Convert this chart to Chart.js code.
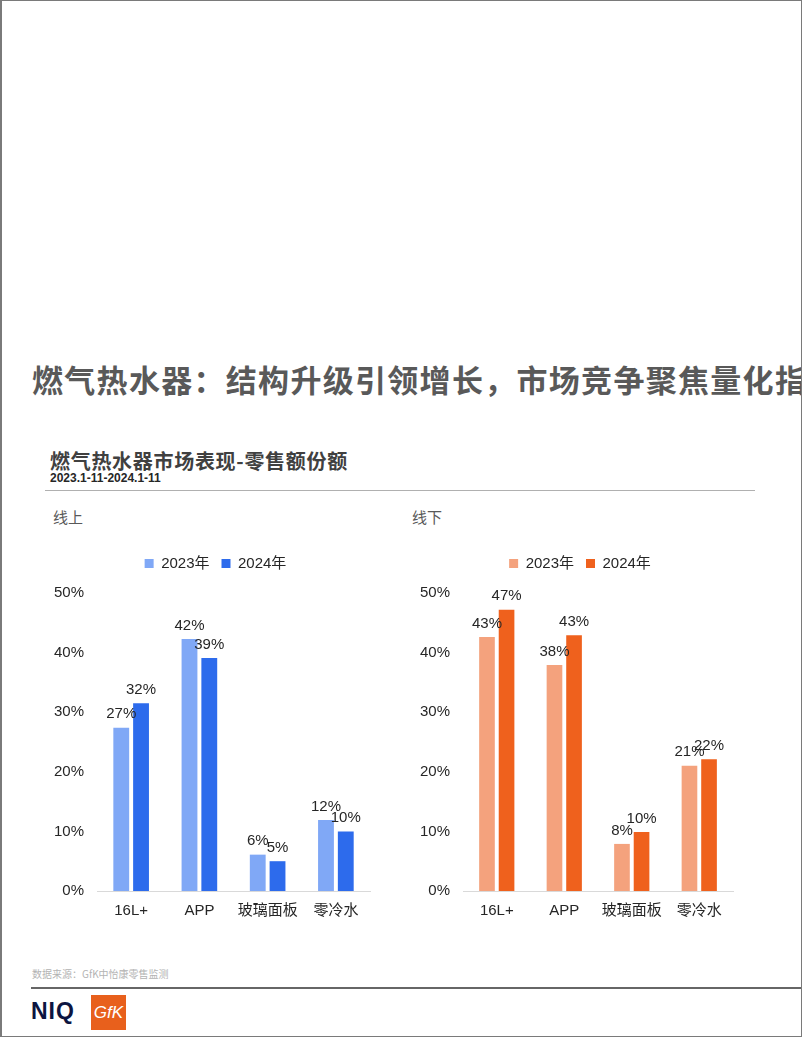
<!DOCTYPE html>
<html>
<head>
<meta charset="utf-8">
<script src="https://cdn.jsdelivr.net/npm/chart.js@4.4.1/dist/chart.umd.min.js"></script>
<style>
    html, body { margin: 0; padding: 0; background: #fff; }
    body { width: 802px; height: 1037px; position: relative; overflow: hidden;
        font-family: "Liberation Sans", "Noto Sans CJK SC", sans-serif; }
    .frame { position: absolute; left: 0; top: 0; width: 802px; height: 1037px; box-sizing: border-box;
        border: 1px solid #7a7a7a; border-left-width: 2px; pointer-events: none; }
    .title { position: absolute; left: 32px; top: 356px; white-space: nowrap; font-size: 31px; font-weight: bold;
        color: #595959; font-family: "Noto Sans CJK SC", sans-serif; letter-spacing: 1.3px; }
    .subtitle { position: absolute; left: 50px; top: 446px; font-size: 20px; font-weight: bold; color: #404040;
        font-family: "Noto Sans CJK SC", sans-serif; white-space: nowrap; letter-spacing: 0.7px; }
    .period { position: absolute; left: 50px; top: 471px; font-size: 12px; font-weight: bold; color: #262626; }
    .rule { position: absolute; left: 45px; top: 490px; width: 710px; height: 0; border-top: 1.5px solid #b0b0b0; }
    .tag { position: absolute; top: 506px; font-size: 15px; color: #595959; font-family: "Noto Sans CJK SC", sans-serif; }
    .source { position: absolute; left: 32px; top: 966px; font-size: 10px; color: #b3b3b3; font-family: "Noto Sans CJK SC", sans-serif; }
    .footline { position: absolute; left: 31px; top: 987px; width: 771px; border-top: 2px solid #666; }
    .niq { position: absolute; left: 31px; top: 998px; font-size: 23px; font-weight: 900; color: #0d1541; letter-spacing: 1px; }
    .gfk { position: absolute; left: 91px; top: 995px; width: 35px; height: 35px; background: #e8601c; color: #fff;
        font-size: 17px; line-height: 35px; text-align: center; font-style: italic;
        font-family: "Liberation Sans Narrow", "Liberation Sans", sans-serif; }
    .chartbox { position: absolute; top: 540px; width: 340px; height: 391px; }
</style>
</head>
<body>
<div class="title">燃气热水器：结构升级引领增长，市场竞争聚焦量化指标</div>
<div class="subtitle">燃气热水器市场表现-零售额份额</div>
<div class="period">2023.1-11-2024.1-11</div>
<div class="rule"></div>
<div class="tag" style="left:53px">线上</div>
<div class="tag" style="left:412px">线下</div>

<div class="chartbox" style="left:40px"><canvas id="onlineChart" width="340" height="391"></canvas></div>
<div class="chartbox" style="left:400px"><canvas id="offlineChart" width="340" height="391"></canvas></div>

<div class="source">数据来源：GfK中怡康零售监测</div>
<div class="footline"></div>
<div class="niq">NIQ</div>
<div class="gfk">GfK</div>
<div class="frame"></div>

<script>
const categories = ['16L+', 'APP', '玻璃面板', '零冷水'];
const seriesNames = ['2023年', '2024年'];

// 线上 retail value share (%)
const online2023 = [27.4, 42.3, 6.1, 11.9];
const online2024 = [31.5, 39.1, 5.0, 10.0];
const onlineLabels2023 = ['27%', '42%', '6%', '12%'];
const onlineLabels2024 = ['32%', '39%', '5%', '10%'];

// 线下 retail value share (%)
const offline2023 = [42.6, 37.9, 7.9, 21.0];
const offline2024 = [47.2, 42.9, 9.9, 22.1];
const offlineLabels2023 = ['43%', '38%', '8%', '21%'];
const offlineLabels2024 = ['47%', '43%', '10%', '22%'];

const yTicks = [0, 10, 20, 30, 40, 50];

const FONT = '"Liberation Sans", "Noto Sans CJK SC", sans-serif';

// draws the value text above each bar
const barLabels = {
    id: 'barLabels',
    afterDatasetsDraw(chart) {
        const ctx = chart.ctx;
        ctx.save();
        ctx.font = '15px ' + FONT;
        ctx.fillStyle = '#262626';
        ctx.textAlign = 'center';
        ctx.textBaseline = 'bottom';
        chart.data.datasets.forEach((ds, i) => {
            chart.getDatasetMeta(i).data.forEach((bar, j) => {
                ctx.fillText(ds.valueLabels[j], bar.x, bar.y - 6);
            });
        });
        ctx.restore();
    }
};

// extra room under the legend, and legend nudged toward the plot centre
const legendGap = {
    id: 'legendGap',
    beforeInit(chart) {
        const fit = chart.legend.fit;
        chart.legend.fit = function () {
            fit.call(this);
            this.height += 12;
        };
    },
    afterLayout(chart) {
        chart.legend.left += 10;
        chart.legend.right += 10;
    }
};

function renderShareChart(canvasId, data2023, data2024, labels2023, labels2024, colors, padLeft, padRight) {
    const ctx = document.getElementById(canvasId).getContext('2d');
    new Chart(ctx, {
        type: 'bar',
        data: {
            labels: categories,
            datasets: [{
                label: seriesNames[0],
                data: data2023,
                valueLabels: labels2023,
                backgroundColor: colors[0],
                categoryPercentage: 0.58,
                barPercentage: 0.8
            }, {
                label: seriesNames[1],
                data: data2024,
                valueLabels: labels2024,
                backgroundColor: colors[1],
                categoryPercentage: 0.58,
                barPercentage: 0.8
            }]
        },
        options: {
            responsive: false,
            animation: false,
            layout: {
                padding: { top: 4, left: padLeft, right: padRight, bottom: 0 }
            },
            scales: {
                x: {
                    grid: { display: false, drawTicks: false },
                    border: { display: true, color: '#d9d9d9', width: 1 },
                    ticks: {
                        color: '#262626', padding: 11, maxRotation: 0, minRotation: 0, autoSkip: false,
                        font: { size: 15, family: FONT }
                    }
                },
                y: {
                    min: 0,
                    max: 50,
                    afterBuildTicks: scale => { scale.ticks = yTicks.map(v => ({ value: v })); },
                    grid: { display: false, drawTicks: false },
                    border: { display: false },
                    ticks: {
                        color: '#262626',
                        padding: 13,
                        font: { size: 15, family: FONT },
                        callback: value => value + '%'
                    }
                }
            },
            plugins: {
                legend: {
                    display: true,
                    position: 'top',
                    labels: {
                        boxWidth: 9,
                        boxHeight: 9,
                        padding: 12,
                        color: '#262626',
                        font: { size: 15, family: FONT }
                    }
                },
                tooltip: { enabled: false }
            }
        },
        plugins: [barLabels, legendGap]
    });
}

renderShareChart('onlineChart', online2023, online2024, onlineLabels2023, onlineLabels2024,
    ['#80a8f6', '#2d6bec'], 1, 10);
renderShareChart('offlineChart', offline2023, offline2024, offlineLabels2023, offlineLabels2024,
    ['#f4a27d', '#ef611d'], 7, 7);
</script>
</body>
</html>
